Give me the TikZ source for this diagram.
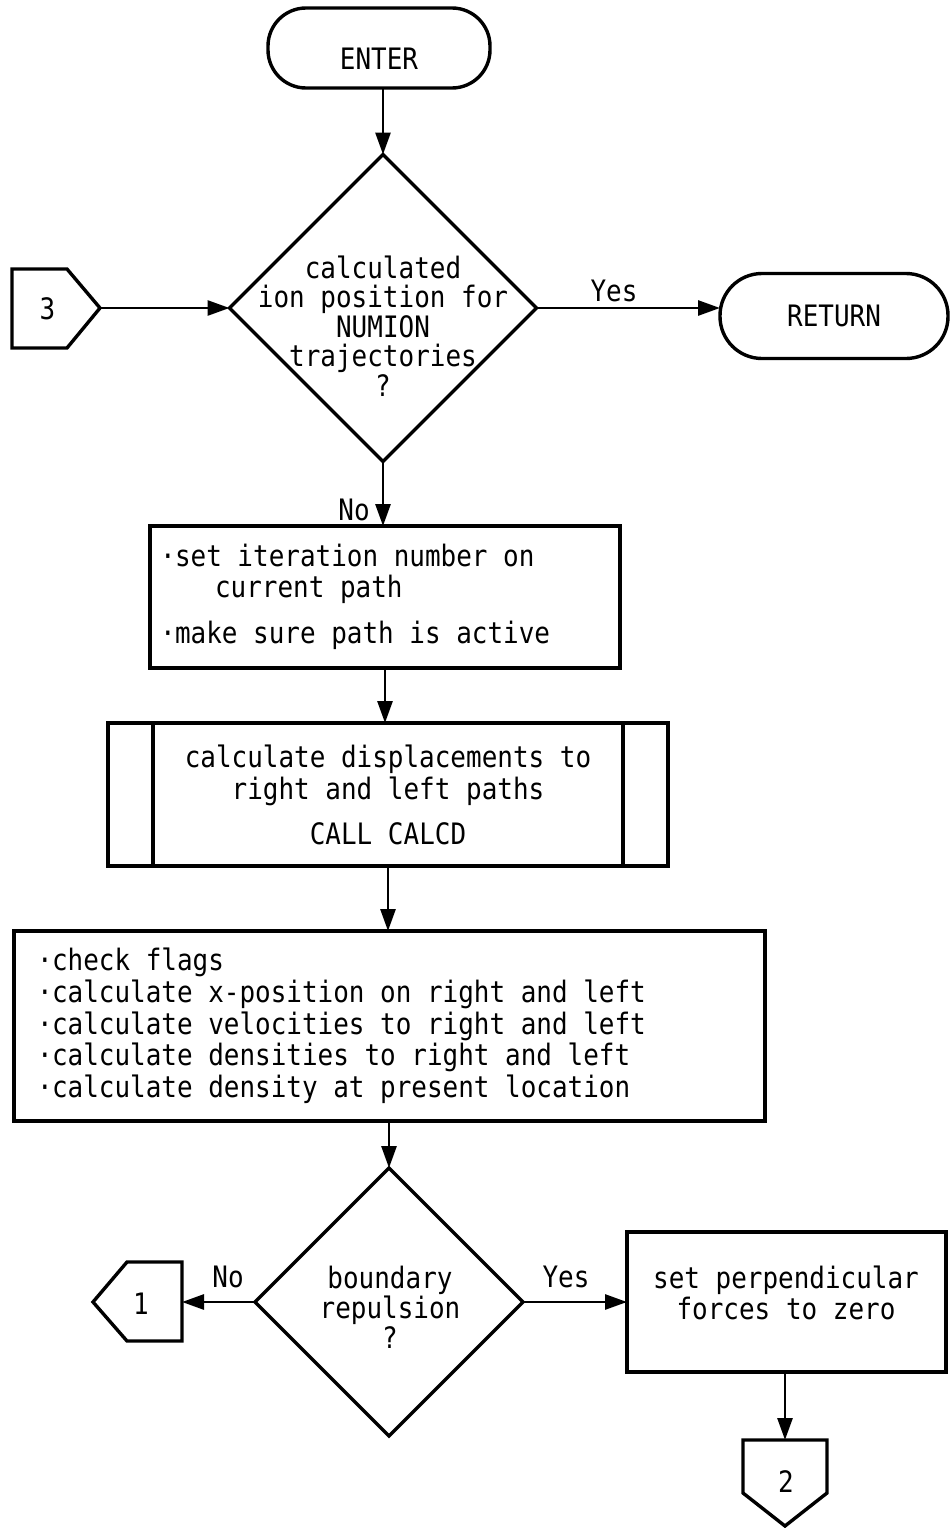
\documentclass[tikz,border=0pt]{standalone}
\usepackage{fontspec}
\newfontfamily\flowfont[FakeStretch=0.88]{DejaVu Sans Mono}
\usetikzlibrary{shapes.geometric,arrows.meta}
% spaces one full character cell wide
\newcommand\fixsp{\spaceskip=\fontcharwd\font`a\relax\xspaceskip=\spaceskip}
% condensed mono text with a chosen line spacing
\newcommand\flowtext[1]{\flowfont\fontsize{29.5}{#1}\selectfont\fixsp}
% narrow centred bullet
\newcommand\bul{\makebox[14pt][c]{·}}
\begin{document}
\begin{tikzpicture}[x=1pt,y=-1pt,
  every node/.style={font=\flowtext{30}},
  shapeline/.style={draw, line width=3.4pt, line join=miter},
  term/.style={shapeline, rectangle, inner sep=0pt, outer sep=0pt},
  procbox/.style={shapeline, rectangle, inner sep=0pt, outer sep=0pt},
  decision/.style={shapeline, diamond, inner sep=0pt, outer sep=0pt,
                   minimum width=#1, minimum height=#1},
  lbl/.style={inner sep=0pt},
  flow/.style={line width=2.8pt, -{Triangle[length=22pt,width=15pt]}},
]
\fill[white] (0,0) rectangle (951,1528);
\useasboundingbox (0,0) rectangle (951,1528);

% --- entry and first decision ---
\node[term, rounded corners=38pt, minimum width=222pt, minimum height=80pt] (enter) at (379,48) {};
\node[lbl] (enterT) at (379,59) {ENTER};

\node[decision=307pt] (d1) at (383,308) {};
\node[lbl, align=center, font=\flowtext{29.5}] (d1T) at (383,326)
  {calculated\\ion position for\\NUMION\\trajectories\\?};

\node[term, rounded corners=42pt, minimum width=228pt, minimum height=85pt] (ret) at (834,316) {RETURN};

% off-page connector 3
\coordinate (c3tip) at (100,308);
\node[lbl] (c3) at (47.5,309) {3};
\draw[shapeline] (12,269) -- (67,269) -- (c3tip) -- (67,348) -- (12,348) -- cycle;

\draw[flow] (enter.south) -- (enter.south -| d1.north) -- (d1.north);
\draw[flow] (c3tip) -- (d1.west);
\draw[flow] (d1.east) -- (d1.east -| ret.west);
\node[lbl] (yes1) at (614,291) {Yes};

% --- processing boxes ---
\node[procbox, text width=448pt, inner xsep=11pt, minimum height=142pt, align=left,
      font=\flowtext{31}] (b1) at (385,597)
  {\fixsp\bul set iteration number on\\\hspace*{54pt}current path\\[15pt]\bul make sure path is active};
\draw[flow] (d1.south) -- (d1.south |- b1.north);
\node[lbl] (no1) at (354,510) {No};

\node[procbox, minimum width=560pt, minimum height=143pt, align=center,
      font=\flowtext{32}] (b2) at (388,794.5)
  {calculate displacements to\\right and left paths\\[13pt]CALL CALCD};
\draw[shapeline] ([xshift=45pt]b2.north west) -- ([xshift=45pt]b2.south west);
\draw[shapeline] ([xshift=-45pt]b2.north east) -- ([xshift=-45pt]b2.south east);
\draw[flow] (b1.south) -- (b1.south |- b2.north);

\node[procbox, text width=703pt, inner xsep=24pt, minimum height=190pt, align=left,
      font=\flowtext{31.7}] (b3) at (389.5,1026)
  {\fixsp\bul check flags\\
   \bul calculate x-position on right and left\\
   \bul calculate velocities to right and left\\
   \bul calculate densities to right and left\\
   \bul calculate density at present location};
\draw[flow] (b2.south) -- (b2.south |- b3.north);

% --- boundary decision ---
\node[decision=268pt] (d2) at (389,1302) {};
\node[lbl, align=center, font=\flowtext{30}] (d2T) at (390,1307)
  {boundary\\repulsion\\?};
\draw[flow] (b3.south -| d2.north) -- (d2.north);

% off-page connector 1
\coordinate (c1edge) at (182,1302);
\node[lbl] (c1) at (141,1304) {1};
\draw[shapeline] (93,1302) -- (127,1262) -- (182,1262) -- (182,1341) -- (127,1341) -- cycle;
\draw[flow] (d2.west) -- (c1edge);
\node[lbl] (no2) at (228,1277) {No};

\node[procbox, minimum width=319pt, minimum height=140pt] (b4) at (786.5,1302) {};
\node[lbl, align=center, font=\flowtext{31}] (b4T) at (786,1292.5)
  {set perpendicular\\forces to zero};
\draw[flow] (d2.east) -- (d2.east -| b4.west);
\node[lbl] (yes2) at (566,1277) {Yes};

% off-page connector 2
\coordinate (c2top) at (785,1440);
\node[lbl] (c2) at (786,1482) {2};
\draw[shapeline] (743,1440) -- (827,1440) -- (827,1493) -- (785,1526) -- (743,1493) -- cycle;
\draw[flow] (b4.south -| c2top) -- (c2top);
\end{tikzpicture}
\end{document}
